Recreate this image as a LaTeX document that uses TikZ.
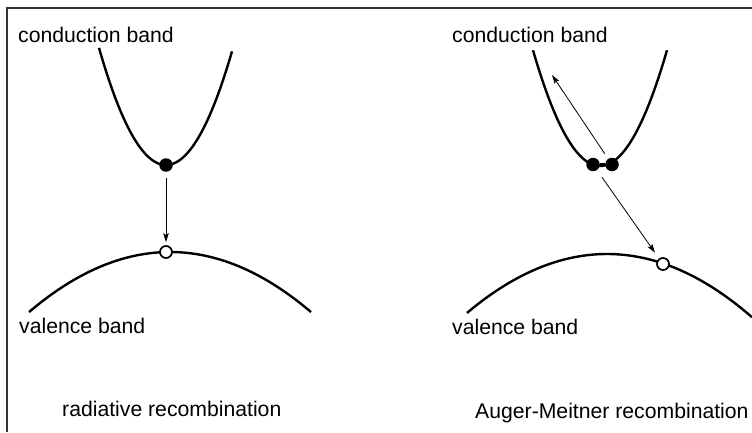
\documentclass[tikz,border=0pt]{standalone}
\usepackage{fontspec}
\setmainfont{Liberation Sans}
\usetikzlibrary{arrows.meta}
\begin{document}
\begin{tikzpicture}[x=1pt,y=-1pt,
  band/.style={line width=2.4pt, black},
  edot/.style={circle, fill=black, inner sep=0pt, minimum size=13.5pt},
  hole/.style={circle, draw=black, fill=white, line width=1.7pt, inner sep=0pt, minimum size=12pt},
  arr/.style={line width=0.8pt, -{Stealth[length=9pt,width=5.5pt,inset=2pt]}},
  lbl/.style={anchor=base west, inner sep=0pt, font=\fontsize{21.2pt}{25pt}\selectfont},
  frame/.style={line width=2pt, black!80}]
\useasboundingbox (0,0) rectangle (752,432);
% frame
\draw[frame] (7,432) -- (7,8) -- (752,8);
% ---------- left panel ----------
\draw[band] plot[domain=-67:66, samples=80] ({166+\x},{165-0.0261*(\x)*(\x)});
\draw[band] plot[domain=-141:141, samples=80] ({170+\x},{252+0.00302*(\x)*(\x)});
\node[edot] (e1) at (166,165) {};
\node[hole] (h1) at (166,252) {};
\draw[arr, shorten <=6pt, shorten >=3pt] (e1) -- (h1);
\node[lbl] (cbL) at (18,42) {conduction band};
\node[lbl] (vbL) at (19,333) {valence band};
\node[lbl] (tL) at (62,416) {radiative recombination};
% ---------- right panel ----------
\draw[band] plot[domain=-67:67, samples=80] ({600+\x},{166-0.0258*(\x)*(\x)});
\draw[band] plot[domain=-140:145, samples=80] ({607+\x},{254+0.00301*(\x)*(\x)});
\node[edot] (e2) at (593,164.5) {};
\node[edot] (e3) at (612,164.5) {};
\draw[band] (e2) -- (e3);
\coordinate (up) at (552,75);
\node[hole] (h2) at (663,264) {};
\draw[arr, shorten <=6pt] (e3) -- (up);
\draw[arr, shorten <=8.5pt, shorten >=7pt] (e2) -- (h2);
\node[lbl] (cbR) at (452,42) {conduction band};
\node[lbl] (vbR) at (452,334) {valence band};
\node[lbl] (tR) at (475,418) {Auger-Meitner recombination};
\end{tikzpicture}
\end{document}
